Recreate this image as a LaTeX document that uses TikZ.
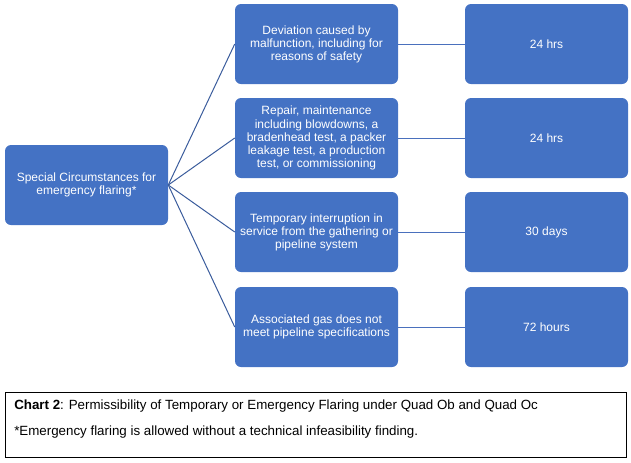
\documentclass[tikz,border=0pt]{standalone}
\usepackage{fontspec}
\setmainfont{Liberation Sans}
\definecolor{boxblue}{HTML}{4472C4}
\definecolor{linkblue}{HTML}{3A5C9C}
\definecolor{linkblue2}{HTML}{4A70BD}
\begin{document}
\begin{tikzpicture}[x=0.75pt,y=-0.75pt,
  bluebox/.style={draw=none,fill=boxblue,rounded corners=4.5pt,minimum width=122.25pt,minimum height=60pt,inner sep=0pt,align=center,text=white,font=\fontsize{9pt}{9.8pt}\selectfont},
  linkA/.style={draw=linkblue,line width=0.75pt},
  linkB/.style={draw=linkblue2,line width=0.75pt},
  captxt/.style={anchor=west,inner sep=0pt,font=\fontsize{10pt}{11pt}\selectfont}]
\useasboundingbox (0,0) rectangle (631,462);
\node[bluebox] (root) at (86.5,185) {Special Circumstances for\\emergency flaring*};
\node[bluebox] (m1) at (316.5,44) {Deviation caused by\\malfunction, including for\\reasons of safety};
\node[bluebox] (m2) at (316.5,138) {Repair, maintenance\\including blowdowns, a\\bradenhead test, a packer\\leakage test, a production\\test, or commissioning};
\node[bluebox] (m3) at (316.5,232) {Temporary interruption in\\service from the gathering or\\pipeline system};
\node[bluebox] (m4) at (316.5,327) {Associated gas does not\\meet pipeline specifications};
\node[bluebox] (r1) at (546.5,44) {24 hrs};
\node[bluebox] (r2) at (546.5,138) {24 hrs};
\node[bluebox] (r3) at (546.5,232) {30 days};
\node[bluebox] (r4) at (546.5,327) {72 hours};
\foreach \m in {m1,m2,m3,m4} \draw[linkA] (root.east) -- (\m.west);
\draw[linkB] (m1.east) -- (r1.west);
\draw[linkB] (m2.east) -- (r2.west);
\draw[linkB] (m3.east) -- (r3.west);
\draw[linkB] (m4.east) -- (r4.west);
\node[draw=black,line width=0.75pt,minimum width=465.75pt,minimum height=48.75pt,inner sep=0pt] (cap) at (315.5,424.5) {};
\node[captxt] (c1) at (14,406) {\textbf{Chart 2}: Permissibility of Temporary or Emergency Flaring under Quad Ob and Quad Oc};
\node[captxt] (c2) at (14,432) {*Emergency flaring is allowed without a technical infeasibility finding.};
\end{tikzpicture}
\end{document}
